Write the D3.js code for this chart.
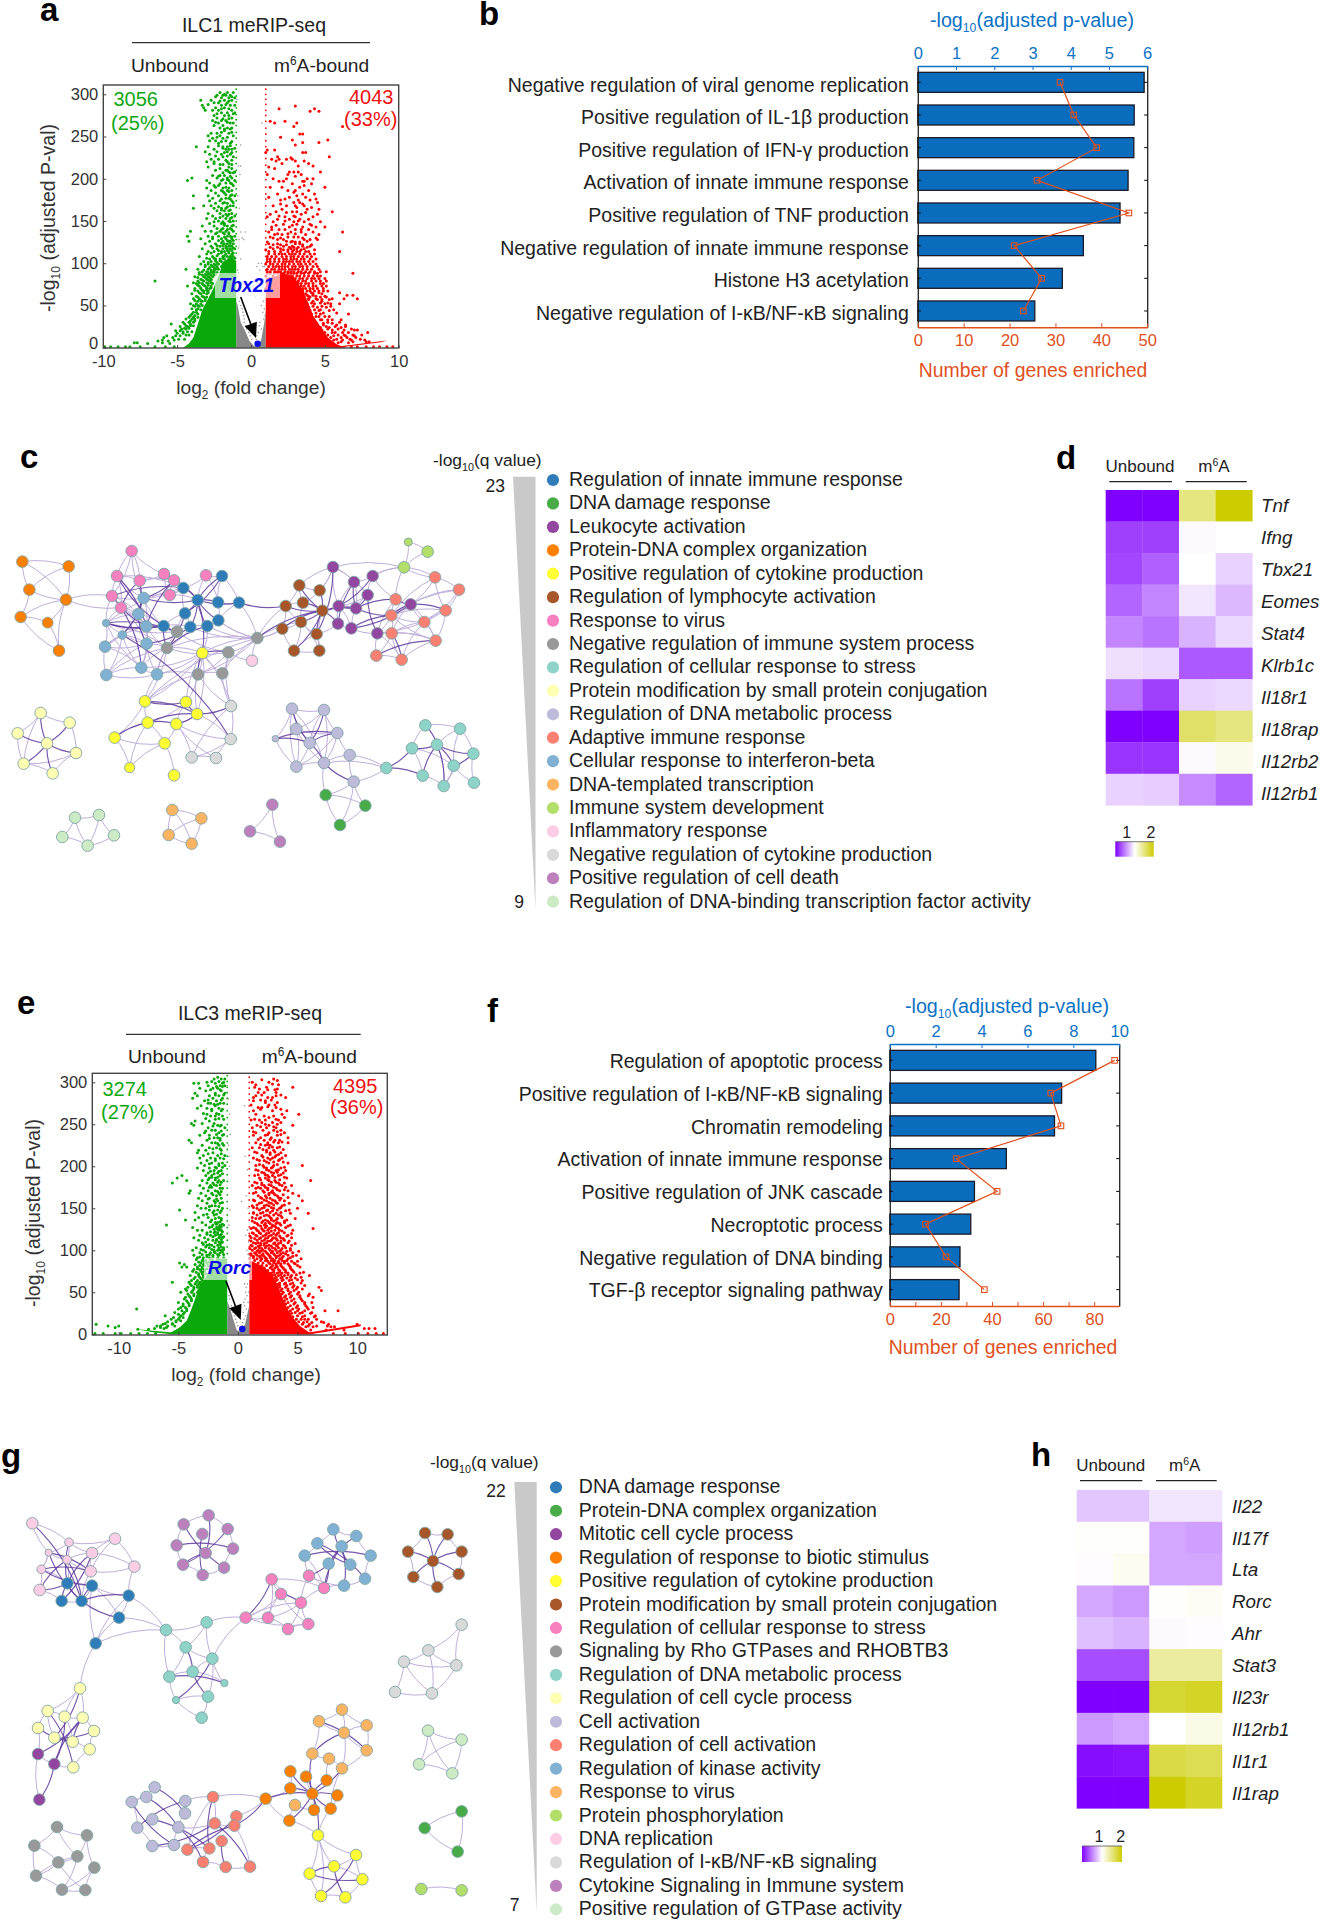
<!DOCTYPE html>
<html><head><meta charset="utf-8">
<script src="https://cdnjs.cloudflare.com/ajax/libs/d3/7.8.5/d3.min.js"></script>
<style>html,body{margin:0;padding:0;background:#fff}svg{display:block}text{font-family:"Liberation Sans",Arial,sans-serif}</style>
</head><body><svg id="c" width="1321" height="1920"></svg>
<script>
// ---------- DATA ----------
const volcanoTicksY=[0,50,100,150,200,250,300];
const termsB=["Negative regulation of viral genome replication","Positive regulation of IL-1β production","Positive regulation of IFN-γ production","Activation of innate immune response","Positive regulation of TNF production","Negative regulation of innate immune response","Histone H3 acetylation","Negative regulation of I-κB/NF-κB signaling"];
const pvalB=[5.92,5.66,5.65,5.50,5.29,4.33,3.78,3.06];
const genesB=[31,34,39,26,46,21,27,23];
const termsF=["Regulation of apoptotic process","Positive regulation of I-κB/NF-κB signaling","Chromatin remodeling","Activation of innate immune response","Positive regulation of JNK cascade","Necroptotic process","Negative regulation of DNA binding","TGF-β receptor signaling pathway"];
const pvalF=[8.98,7.49,7.18,5.08,3.69,3.53,3.06,3.02];
const genesF=[88,63,67,26,42,14,22,37];
const legendC=["Regulation of innate immune response","DNA damage response","Leukocyte activation","Protein-DNA complex organization","Positive regulation of cytokine production","Regulation of lymphocyte activation","Response to virus","Negative regulation of immune system process","Regulation of cellular response to stress","Protein modification by small protein conjugation","Regulation of DNA metabolic process","Adaptive immune response","Cellular response to interferon-beta","DNA-templated transcription","Immune system development","Inflammatory response","Negative regulation of cytokine production","Positive regulation of cell death","Regulation of DNA-binding transcription factor activity"];
const legendG=["DNA damage response","Protein-DNA complex organization","Mitotic cell cycle process","Regulation of response to biotic stimulus","Positive regulation of cytokine production","Protein modification by small protein conjugation","Regulation of cellular response to stress","Signaling by Rho GTPases and RHOBTB3","Regulation of DNA metabolic process","Regulation of cell cycle process","Cell activation","Regulation of cell activation","Regulation of kinase activity","Response to virus","Protein phosphorylation","DNA replication","Regulation of I-κB/NF-κB signaling","Cytokine Signaling in Immune system","Positive regulation of GTPase activity"];
const groupColors=["#2f7db8","#47ab47","#9246a0","#ff7f00","#ffff33","#a65628","#f781bf","#999999","#8dd3c7","#ffffb3","#bebada","#fb8072","#80b1d3","#fdb462","#b3de69","#fccde5","#d9d9d9","#bc80bd","#ccebc5"];
const groupKeys="ABCDEFGHIJKLMNOPQRS".split("");
const genesD=["Tnf","Ifng","Tbx21","Eomes","Stat4","Klrb1c","Il18r1","Il18rap","Il12rb2","Il12rb1"];
const heatD=[[-2,-2,1,2],[-1.5,-1.5,-.05,0],[-1.45,-1.25,0,-.35],[-1.2,-.95,-.2,-.55],[-.95,-1.1,-.6,-.3],[-.25,-.3,-1.3,-1.3],[-1.1,-1.5,-.35,-.3],[-2,-2,1.2,1],[-1.6,-1.6,-.05,.15],[-.35,-.4,-.9,-1.2]];
const genesH=["Il22","Il17f","Lta","Rorc","Ahr","Stat3","Il23r","Il12rb1","Il1r1","Il1rap"];
const heatH=[[-.45,-.45,-.2,-.2],[.03,.03,-.7,-.75],[-.02,.12,-.7,-.7],[-.7,-.8,.03,.08],[-.5,-.6,-.05,-.02],[-1.4,-1.4,.75,.75],[-2,-2,1.6,1.7],[-.8,-.7,0,.2],[-1.9,-1.85,1.45,1.35],[-2,-2,2,1.7]];

// volcano: dense areas as outlines [log2FC, -log10P], scattered points as rows [y, x, x, ...]
const denseGreenA=[[-4.6,0],[-4.2,5],[-3.9,12],[-3.6,28],[-3.3,45],[-2.9,58],[-2.5,72],[-2.2,85],[-1.9,100],[-1.3,108],[-1,100],[-1,0]];
const denseRedA=[[1,0],[1,82],[1.6,84],[2.2,88],[2.9,84],[3.2,76],[3.5,68],[3.9,52],[4.2,38],[4.7,25],[5.2,12],[5.8,4],[6.4,0]];
const tailRedA=[[5.2,0],[9.2,8.5],[8.8,6.5],[6.5,1.5],[6.2,0]];
const denseGrayA=[[-1,0],[-1,55],[-.9,50],[-.7,30],[-.4,20],[-.1,8],[.2,2],[.5,1],[.7,10],[.9,30],[1,45],[1,0]];
const edgeGreenYA=[306,298,291,284,276,270,263,255,248,240,232,225,218,210,203,196,188,182,174,166,158,150,143,135,128,120,112];
const edgeRedYA=[306,300,294,288,281,275,268,260,253,245,238,231,224,216,208,199,190,182,176,168,160,153,146,138,130,122,115,108,100,92,84];
const greenA=[[302,-2.1,-1.6,-1.2],[299,-2.3,-1.9,-1.7,-1.4],[296,-2.0,-1.5,-1.1],[293,-3.4,-2.7,-1.8,-1.3],[290,-2.5,-2.2,-1.6],[287,-3.3,-2.0,-1.4,-1.1],[284,-3.2,-2.4,-1.8],[281,-3.1,-2.6,-2.2,-1.3],[278,-2.0,-1.6,-1.1],[275,-2.5,-1.8,-1.5],[272,-2.3,-1.3],[269,-2.6,-2.0,-1.7],[266,-2.2,-1.4,-1.2],[263,-2.5,-1.9],[260,-2.1,-1.6,-1.3],[257,-1.8],[254,-2.7,-2.3,-1.5],[251,-2.9,-2.1,-1.2],[248,-2.6,-1.9],[245,-2.8,-2.4,-1.7],[242,-2.2,-1.4],[238,-3.7,-2.9,-1.9,-1.6],[235,-2.5,-1.7,-1.5,-1.3],[232,-3.1,-2.3,-1.6],[229,-2.8,-2.0,-1.4],[226,-1.9,-1.2],[223,-2.7,-2.2],[220,-3.0,-2.5,-1.6],[217,-2.1,-1.9,-1.3],[214,-2.9,-1.5],[210,-2.4,-1.7,-1.6],[207,-1.9,-1.4,-1.2],[204,-2.6,-2.1,-1.8],[201,-4.0,-2.3,-1.6,-1.3],[198,-4.3,-3.0,-2.0,-1.5,-1.1],[195,-2.8,-1.7,-1.4],[192,-2.5,-2.2,-1.2],[189,-3.0,-1.9,-1.5],[186,-2.7,-2.0,-1.6,-1.3],[183,-2.4,-1.8],[180,-3.9,-2.9,-2.2,-1.4,-1.1],[177,-2.6,-1.7,-1.5],[174,-2.8,-2.1,-1.3],[171,-2.4,-1.9,-1.6],[168,-3.2,-2.7,-1.4,-1.2],[165,-3.9,-2.5,-2.0,-1.7],[162,-2.3,-1.8,-1.5],[159,-2.9,-2.1,-1.3],[156,-2.6,-1.9,-1.6,-1.1],[153,-3.0,-2.4,-1.7,-1.4],[150,-2.2,-1.5,-1.2],[147,-2.8,-2.0,-1.8],[144,-3.3,-2.5,-1.6,-1.3],[141,-2.3,-1.9,-1.4],[138,-4.1,-3.1,-2.7,-2.1,-1.7,-1.2],[135,-2.4,-1.8,-1.5],[132,-4.3,-2.9,-2.2,-1.6,-1.4,-1.1],[129,-3.4,-2.6,-2.0,-1.7,-1.3],[126,-4.2,-2.8,-1.9,-1.5,-1.4],[123,-3.1,-2.4,-1.8,-1.6,-1.2],[120,-2.7,-2.1,-1.7,-1.5,-1.3],[117,-3.3,-2.3,-1.9,-1.6,-1.4,-1.1],[114,-2.9,-2.5,-2.0,-1.8,-1.5],[111,-3.0,-2.2,-1.7,-1.3],[108,-3.5,-2.6,-1.9,-1.6,-1.4,-1.2],[105,-2.8,-2.4,-2.1,-1.8,-1.5],[102,-3.2,-2.7,-2.0,-1.7,-1.3,-1.1],[99,-3.4,-2.9,-2.5,-2.2,-1.9],[96,-3.1,-2.6,-2.3,-2.0],[93,-4.4,-3.6,-2.9,-2.4,-2.2],[90,-3.3,-3.0,-2.7,-2.5],[87,-3.5,-3.1,-2.8,-2.4],[84,-3.8,-3.2,-2.9,-2.6],[81,-3.4,-3.0,-2.7],[79,-6.5,-3.6,-3.2,-2.8],[76,-3.7,-3.3,-2.9,-2.6],[73,-4.3,-3.5,-3.1,-2.7],[70,-3.8,-3.4,-3.0,-2.8],[67,-3.6,-3.2,-2.9],[64,-4.0,-3.4,-3.0],[61,-3.7,-3.3],[58,-3.9,-3.5,-3.1],[55,-3.6,-3.3],[52,-4.1,-3.7,-3.4],[49,-3.8,-3.5],[46,-4.0,-3.6],[42,-3.9,-3.7],[38,-4.1,-3.8],[34,-4.4,-4.0,-3.8],[30,-4.6,-4.2,-3.9],[28,-5.4,-4.5,-4.1],[25,-4.8,-4.3],[22,-4.7,-4.4],[20,-5.1,-4.8],[17,-5.0,-4.6],[14,-5.7,-5.1,-4.8],[12,-5.9,-5.3],[9,-6.0,-5.2],[8,-6.3,-5.6],[6,-7.7,-7.9,-6.0],[5,-7.0,-5.5],[1,-9.9,-9.5,-9.0,-8.5,-8.2,-7.5,-6.5,-5.8,-5.2]];
const greenA2=[[300,-1.8],[297,-2.4,-1.3],[292,-2.1,-1.5],[288,-1.7,-2.9],[283,-1.5,-2.0],[277,-2.3,-1.2],[271,-1.9,-1.5],[267,-1.6,-2.4],[259,-1.4,-1.8],[255,-2.0,-1.3],[249,-1.6,-2.3],[244,-1.3,-2.0],[239,-2.2,-1.4],[236,-1.9,-1.1],[231,-1.8,-1.3],[227,-2.4,-1.6],[222,-1.7,-1.3],[218,-2.5,-1.5],[212,-2.1,-1.3],[208,-1.5,-1.1],[203,-2.2,-1.4],[199,-1.9,-1.6],[194,-2.1,-1.3],[190,-2.4,-1.7],[185,-1.5,-1.9],[181,-1.7,-1.3],[176,-2.0,-1.4],[172,-1.8,-1.2],[167,-2.2,-1.6],[163,-1.4,-2.0],[158,-1.7,-1.5],[154,-2.1,-1.3],[149,-1.9,-1.4,-2.5],[145,-1.8,-1.2],[140,-2.0,-1.6,-1.3],[136,-1.5,-1.9,-2.3],[131,-1.8,-1.3,-2.6],[127,-2.2,-1.6,-1.2],[124,-2.0,-1.4],[121,-2.3,-1.9,-1.4],[118,-2.6,-1.7,-1.2],[115,-2.2,-1.6,-1.3],[112,-2.7,-2.0,-1.5,-1.2],[109,-2.3,-1.8,-1.3],[106,-3.0,-2.5,-1.9,-1.4,-1.1],[103,-2.4,-2.1,-1.6,-1.2],[101,-2.9,-2.3,-1.8,-1.4],[98,-3.1,-2.7,-2.4],[95,-2.8,-2.5,-2.3],[92,-3.2,-2.7,-2.5],[89,-3.5,-2.9,-2.6,-2.3],[86,-3.3,-3.0,-2.7,-2.5],[83,-3.6,-3.1,-2.8],[80,-3.3,-2.9,-2.7],[77,-3.9,-3.5,-3.0,-2.7],[74,-3.6,-3.2,-2.9],[71,-3.4,-3.0,-2.7],[68,-3.8,-3.3,-3.0],[65,-3.5,-3.2,-2.9],[60,-3.6,-3.2,-3.0],[56,-3.8,-3.4,-3.1],[50,-3.9,-3.6,-3.3],[45,-3.7,-3.4],[40,-4.0,-3.6],[36,-4.2,-3.9,-3.6],[32,-4.1,-3.8],[26,-4.4,-4.1,-3.9],[23,-4.5,-4.2],[19,-4.6,-4.3,-4.0],[15,-4.4,-4.2],[10,-4.9,-4.5]];
const redA=[[286,3.0],[283,1.9,4.3],[280,4.0,4.6],[268,1.3,2.3],[266,3.1,1.6],[262,6.2,2.9],[253,3.5,3.3],[249,2.0],[246,2.8,5.2],[243,3.5,4.6],[240,3.0],[234,1.6,1.1],[231,3.7,1.0,3.5],[226,1.8,5.3],[223,1.9,2.4,2.8,1.4],[221,3.6,1.7,3.0],[218,3.9,2.1],[214,1.2],[208,2.9,3.2,4.7,2.6],[205,1.1,2.5,3.4],[200,2.4,1.5,4.2,3.8],[197,2.2,3.5,3.6,1.9],[194,2.8,4.1],[190,5.0,3.3,2.1,1.3],[186,2.5,3.0,3.9],[182,1.8,4.3,3.5],[178,2.6,3.7,1.2],[175,3.2,4.0,2.0],[172,2.9,3.3,4.5],[168,1.5,2.4,3.0,3.6],[164,2.1,3.8,4.6],[161,5.5,2.8,3.1,1.7],[158,1.3,3.4,4.5],[155,2.3,3.0,4.2,1.1],[152,2.6,3.3,3.9,1.8],[149,1.5,2.9,3.6,4.7],[146,2.2,3.1,4.0],[143,1.4,2.6,3.5,5.0,4.4],[140,1.9,3.0,2.3],[137,6.2,1.2,2.7,3.4,4.2],[134,1.6,2.1,3.7,4.6],[131,1.3,2.5,2.9,3.2],[128,1.8,2.2,3.6,4.0,4.5],[125,1.1,2.7,3.0,3.3],[122,1.5,2.0,2.4,3.5,4.1],[119,1.3,1.8,2.6,2.9,3.2,3.8],[116,1.0,2.2,2.5,3.4,4.3,2.9],[114,6.0,1.6,2.0,2.8,3.1,3.7],[111,1.2,1.9,2.3,2.6,3.3,4.0],[108,1.4,1.7,2.1,2.9,3.5,3.8],[105,1.1,1.6,2.4,2.7,3.1,3.6,4.4],[102,1.3,1.9,2.2,2.6,3.3,3.9],[99,1.0,1.5,1.8,2.3,2.9,3.4,3.7],[96,1.2,1.7,2.1,2.5,3.0,3.5,4.2],[93,1.4,1.9,2.3,2.8,3.2,3.8,4.6],[90,1.1,1.6,2.0,2.5,2.9,3.4,4.0,5.1],[88,1.3,1.8,2.2,2.7,3.1,3.6,4.3,6.9],[85,1.0,1.5,1.9,2.4,2.8,3.3,3.9,4.7],[82,1.2,1.7,2.1,2.6,3.0,3.5,4.1,5.0],[79,1.4,1.8,2.3,2.8,3.2,3.7,4.4],[76,1.1,1.6,2.0,2.5,2.9,3.4,3.9,4.7],[73,1.3,1.9,2.2,2.7,3.1,3.6,4.2,5.1],[70,1.0,1.5,2.1,2.4,3.0,3.5,4.0,4.5],[67,1.6,2.6,3.3,3.8,4.3,4.9],[65,6.0,3.5,4.1,4.6],[62,3.3,3.8,4.2,6.5,6.9],[60,3.6,4.0,4.7,5.1],[58,3.5,3.9,4.4,7.2,5.5,6.3],[55,3.7,4.2,4.8],[52,3.8,4.3,5.0,5.4,6.0],[48,3.9,4.5,5.1],[44,4.0,4.6,5.3],[40,4.1,4.7,6.6],[37,4.0,4.4,5.0],[33,4.2,4.8,5.5],[30,4.4,5.2,6.0],[27,4.5,4.9,5.8,6.4],[24,4.7,5.3,6.1],[21,4.8,5.5,6.3,7.2,7.0],[18,5.0,5.7,6.6,7.9],[15,5.2,5.9,6.9,6.3,7.5],[12,5.4,6.1,7.1,6.5],[9,5.6,6.2,6.8,7.7],[6,5.9,6.6],[1,6.8,7.2,7.8,8.3,8.7,9.2,9.6]];
const redA2=[[225,2.7],[215,3.2,4.2],[212,1.6],[203,3.0],[192,3.6],[184,2.9],[180,3.1],[176,2.3,4.4],[170,2.0,3.5],[166,3.1,4.1],[160,2.4,3.7],[156,1.9,2.9],[150,3.2,2.3],[145,1.7,2.8,4.1],[140,3.4,3.9,1.4],[135,2.5,3.0,1.8],[130,2.0,3.5,4.4,1.5],[126,2.4,2.8,3.8],[123,1.2,3.0,3.3,1.8],[120,2.2,2.8,3.5,4.0],[117,1.5,2.0,2.7,3.1,3.6],[114,1.2,2.5,3.3,3.9],[111,1.6,2.1,2.8,3.0,3.6,4.3],[108,1.1,2.4,2.7,3.2,4.1],[105,1.3,1.9,2.2,2.9,3.4,4.0],[102,1.1,1.6,2.4,2.8,3.1,3.6,4.2],[99,1.3,2.1,2.6,3.2,4.0,4.4],[96,1.5,1.9,2.3,2.8,3.3,3.8,4.5],[93,1.1,1.6,2.1,2.6,3.0,3.5,4.1],[90,1.3,1.8,2.3,2.7,3.2,3.7,4.3,4.7],[88,1.1,1.6,2.0,2.5,2.9,3.4,3.9,4.5],[85,3.1,3.6,4.2,4.5,2.6],[82,3.3,3.8,4.3,4.6],[79,3.2,3.5,4.1,4.7,5.1],[76,3.2,3.7,4.2,4.9],[73,3.4,3.9,4.4,4.8],[70,3.3,3.7,4.2,4.9],[67,3.5,4.0,4.6,5.2],[64,3.7,4.2,4.8],[61,3.9,4.4,5.0],[57,3.9,4.5,5.3,4.8],[53,4.1,4.7,5.2],[49,4.2,4.8,5.4],[45,4.3,4.7,5.6],[41,4.4,4.9,5.8],[37,4.6,5.3],[33,4.7,5.2,6.1],[29,4.9,5.5],[25,5.1,5.7,6.4],[22,5.2,5.9,6.8],[18,5.5,6.2],[14,5.6,6.4,7.0],[10,5.8,6.7,7.4],[7,6.1,6.9,7.8,8]];
const grayA=[[294,-.95],[266,.75],[240,-.7],[215,-.85,-.7],[205,-.75],[180,-.9],[165,-.8],[137,-.7,-.4],[130,-.6],[128,-.5,-.8],[118,-.85],[105,-.7],[100,.5,.7],[96,.4,.8,.9],[92,-.9,.6],[88,-.85],[84,.95,-.95],[60,-.9,.3],[55,-.8,.85],[50,-.7,.7],[46,-.6,.9],[42,-.55,.8],[38,-.5,.95],[34,-.45,.85],[30,-.45,.6],[26,-.35,.55],[22,-.3,.7],[18,-.15,.5],[14,-.05,.4],[10,.05,.35]];
const denseGreenE=[[-5.9,0],[-4.9,8],[-4.3,16],[-3.9,30],[-3.5,46],[-3.2,60],[-2.7,68],[-2.3,80],[-1.8,90],[-.9,90],[-.9,0]];
const tailGreenE=[[-8.5,6],[-5.5,2],[-5.5,0],[-7,2]];
const denseRedE=[[.95,0],[.95,88],[1.5,85],[2.2,80],[2.8,72],[3.3,60],[3.7,45],[4.1,32],[4.6,20],[5.2,10],[6,2],[6.5,0]];
const tailRedE=[[5,0],[10.3,12],[10.3,9.5],[7,2],[6,0]];
const denseGrayE=[[-.9,0],[-.9,40],[-.65,30],[-.4,18],[-.1,5],[.2,3],[.6,12],[.95,35],[.95,0]];
const edgeGreenYE=[308,301,294,288,281,274,266,258,250,243,236,228,220,212,205,197,190,182,174,166,158,150,142,135,127,120,112,104,96];
const edgeRedYE=[306,300,293,286,279,272,265,258,250,242,235,228,220,213,205,197,189,182,175,168,160,152,144,136,128,120,112,104,96,90];
const greenE=[[304,-2.0,-1.4,-1.1],[301,-2.2,-1.6],[299,-3.7,-3.3,-1.9,-1.3],[296,-2.5,-1.5,-1.1],[293,-3.2,-2.1,-1.7],[290,-2.7,-1.4],[287,-3.6,-1.9,-1.1],[284,-3.4,-2.4,-1.6],[281,-3.8,-2.1,-1.3],[278,-2.8,-1.8],[275,-2.5,-2.3,-1.5,-1.2],[272,-3.1,-1.9],[269,-3.4,-2.6,-1.6],[266,-2.2,-1.4],[263,-2.9,-1.8],[260,-2.3,-1.9,-1.3],[257,-2.7,-1.6],[254,-3.6,-2.4],[251,-3.9,-3.0,-2.0],[249,-3.7,-1.7,-1.4],[246,-2.5,-1.1],[243,-2.2,-1.9],[240,-2.8,-1.6],[237,-3.2,-2.4,-1.3],[234,-2.0,-1.7],[231,-4.1,-2.6,-1.5],[228,-3.9,-2.2,-1.9],[225,-3.0,-1.6,-1.2],[222,-2.4,-1.8],[219,-3.3,-2.7,-1.4],[216,-3.4,-2.1],[213,-2.9,-1.7,-1.1],[210,-3.2,-2.3,-1.5],[207,-2.6,-1.9],[204,-3.1,-2.2,-1.3],[201,-2.8,-1.6,-1.1],[198,-3.4,-2.4,-1.8],[195,-2.9,-2.0,-1.4],[192,-2.5,-1.7],[189,-4.7,-2.7,-2.2,-1.5],[186,-5.1,-2.4,-1.9],[183,-4.3,-3.0,-1.6,-1.2],[180,-5.5,-2.6,-2.1],[177,-3.2,-2.3,-1.8],[174,-2.9,-1.5,-1.3],[171,-4.0,-2.5,-1.9],[168,-4.1,-3.1,-2.2,-1.6],[165,-2.7,-1.8],[162,-3.3,-2.4,-1.4],[159,-3.0,-2.0,-1.7],[156,-2.6,-1.5],[153,-3.4,-2.2,-1.9],[150,-3.1,-2.7,-1.3],[148,-4.9,-2.4,-1.7],[145,-3.6,-2.1,-1.5],[142,-2.9,-2.0],[139,-3.3,-2.5,-1.6],[136,-4.4,-3.6,-2.2,-1.4],[133,-3.0,-1.9,-1.7],[130,-6.0,-2.7,-2.1,-1.5,-1.2],[127,-3.8,-2.4,-1.8],[124,-3.4,-3.0,-1.6,-1.4],[121,-2.6,-2.0,-1.7],[118,-3.2,-2.3,-1.9,-1.5],[115,-3.7,-2.8,-1.6,-1.3],[112,-3.3,-2.1,-1.8],[109,-3.0,-1.9,-1.5,-1.4],[106,-2.6,-2.2,-1.7],[103,-3.5,-2.4,-1.6,-1.2],[100,-3.8,-2.9,-2.0,-1.7,-1.4],[97,-3.2,-2.3,-1.9,-1.5],[94,-3.7,-2.6,-2.1,-1.6],[91,-3.4,-2.9,-2.4,-1.2,-1.7],[88,-3.0,-2.7,-2.1],[85,-4.9,-3.1,-2.6],[83,-4.5,-3.6,-2.9],[80,-4.7,-4.3,-3.4,-3.0],[77,-3.7,-3.2,-2.8],[74,-3.5,-3.0],[70,-4.0,-3.3,-2.9],[66,-3.7,-3.1],[62,-5.5,-4.1,-3.5,-3.2],[58,-3.9,-3.4],[54,-4.4,-3.7],[50,-4.8,-3.9,-3.4],[46,-4.1,-3.7],[42,-4.5,-3.9],[38,-5.0,-4.2],[34,-4.6,-4.1],[30,-8.5,-5.0,-4.3],[26,-5.3,-4.5],[22,-6.1,-4.8],[18,-5.6,-5.0],[15,-5.9,-5.2],[12,-11.9,-6.3,-5.5],[10,-10.9,-10.0,-6.8],[8,-10.3,-6.5,-6.0],[6,-8.4,-7.5],[1,-12,-11.3,-10.3,-9.8,-9,-8.3,-7.6,-6.9]];
const greenE2=[[306,-1.7],[300,-2.6,-1.2],[295,-1.8,-1.3],[291,-2.3,-1.5],[285,-1.9,-1.2],[279,-2.5,-1.4],[274,-1.7,-2.0],[268,-1.3,-2.2],[262,-2.6,-1.6],[256,-1.9,-1.2],[248,-2.1,-1.5],[242,-2.7,-1.4],[238,-1.8,-1.2],[233,-2.4,-1.5],[227,-1.7,-1.3],[221,-2.1,-1.5],[215,-2.5,-1.4],[209,-1.9,-1.2],[203,-2.4,-1.6],[199,-1.9,-1.3],[194,-2.3,-1.6],[191,-2.0,-1.3],[187,-2.2,-1.7],[184,-2.5,-1.9],[181,-1.7,-1.4],[178,-2.0,-1.5],[175,-2.4,-2.2],[170,-1.7,-1.4],[166,-2.1,-1.5],[161,-2.5,-1.8],[157,-1.9,-1.3],[152,-2.4,-1.6],[147,-2.0,-1.4],[143,-2.6,-1.8],[138,-1.9,-1.4],[134,-2.3,-1.5],[131,-1.8,-1.3],[128,-2.2,-1.6,-1.4],[125,-2.0,-1.7,-1.5],[122,-2.3,-1.9,-1.3],[119,-2.6,-1.7,-1.4],[116,-2.1,-1.5,-1.2],[113,-2.5,-1.8,-1.4],[110,-2.7,-1.6,-1.3],[107,-2.9,-2.4,-1.5],[104,-2.7,-2.0,-1.4],[101,-3.1,-2.2,-1.6,-1.2],[98,-2.7,-2.0,-1.3],[95,-3.0,-2.4,-1.7,-1.2],[92,-3.2,-2.6,-2.1],[89,-3.5,-2.9,-2.3],[86,-3.3,-2.8,-2.4],[82,-3.2,-2.8,-2.5],[78,-3.4,-3.0,-2.6],[75,-3.8,-3.1,-2.8],[72,-3.3,-3.0,-2.7],[68,-3.6,-3.2,-2.9],[64,-3.9,-3.4,-3.0],[60,-4.0,-3.6,-3.3],[56,-4.2,-3.7,-3.4],[52,-4.3,-3.8,-3.3],[48,-4.2,-3.7],[44,-4.4,-4.0],[40,-4.3,-3.9],[36,-4.6,-4.1],[32,-4.8,-4.4],[28,-4.7,-4.3],[24,-5.0,-4.6],[20,-5.4,-4.9,-4.6],[16,-5.2,-4.8],[13,-6.1,-5.5],[10,-6.5,-5.9,-5.3],[7,-7,-6.2]];
const redE=[[304,3.0],[302,3.3],[300,1.2,2.6],[297,1.5,3.4],[294,1.4,4.6,2.4],[291,2.5,3.1],[288,1.7,2.2,3.2],[285,2.0,3.6],[282,1.3,2.5,2.9,4.0],[279,2.8,1.9],[276,2.3,3.3],[273,1.1,3.1,2.6],[270,3.2,2.0,1.7],[266,2.9,4.1,1.3],[262,1.5,3.7,5.1],[258,2.6,3.9],[255,1.1,1.8,2.3,3.4],[252,2.0,2.9,3.6],[249,1.6,2.6,4.6],[246,1.2,2.4,3.2],[243,2.1,3.0,3.6],[240,2.6,1.5,3.9],[237,1.3,2.3,3.3],[234,1.9,2.8,4.2],[231,2.2,3.1,3.5],[228,1.5,2.5,3.4,4.2],[225,2.3,2.7],[222,1.2,1.8,2.6,3.3],[219,2.4,3.0],[216,1.6,2.7,3.6],[213,2.0,3.2,4.0],[210,1.3,2.5,2.9,3.7],[207,1.8,2.2,3.4],[204,2.6,4.2],[201,1.5,2.1,3.0,5.4],[198,2.4,2.8,3.6],[195,1.7,2.6,3.2,4.0],[192,2.2,3.0,3.8],[189,1.4,2.5,2.9,3.4],[186,1.8,2.3,4.1],[183,2.6,3.1,6.1],[180,1.6,2.0,3.4,3.9],[177,1.2,2.2,2.8,3.7,4.5],[174,1.5,1.9,2.5,3.2],[171,2.1,2.9,3.5,4.2],[168,1.3,2.6,3.0,4.6],[165,1.7,2.3,3.3,5.1],[162,2.0,2.7,3.6],[159,1.4,2.4,3.1,3.9,5.4],[156,1.8,2.8,3.3,4.3],[153,1.2,2.2,2.6,3.7],[150,1.6,2.0,3.0,3.5,5.0],[147,2.4,2.9,4.0],[144,1.3,1.9,3.2,4.4,5.9],[141,2.2,2.6,3.6],[138,1.5,1.8,2.8,3.3,4.8],[135,1.2,2.1,2.5,3.0,3.9],[132,1.6,2.3,2.7,3.2,3.5],[129,1.9,2.4,2.9,3.1,4.2],[126,1.1,1.5,2.0,2.6,3.4,6.3],[123,1.7,2.2,2.8,3.7],[120,1.3,1.9,2.4,3.0,3.3,4.5],[117,1.0,1.6,2.1,2.6,3.5,4.1],[114,1.4,1.8,2.3,2.9,3.2,3.8],[111,1.1,2.0,2.5,2.7,3.6,4.3],[108,1.5,1.9,2.2,3.0,3.4,4.8],[105,1.2,1.7,2.4,2.8,3.3,3.9],[102,1.0,1.4,2.0,2.6,3.1,3.7,4.4],[99,1.6,1.9,2.3,2.9,3.5,4.1,5.1],[96,1.1,1.5,2.1,2.5,3.0,3.6,4.0],[93,1.3,1.8,2.2,2.7,3.3,3.8,4.6],[90,1.0,1.6,2.0,2.4,2.9,3.5,4.2,5.3],[88,1.4,1.9,2.3,2.8,3.1,3.7,4.1],[85,1.2,1.7,2.1,2.6,3.0,3.4,3.9,4.7],[82,1.5,2.0,2.4,2.9,3.2,3.6,4.3,5.0],[79,1.1,1.8,2.2,2.7,3.1,3.8,4.4],[76,1.4,1.9,2.5,3.0,3.5,4.0,4.6],[73,2.8,3.3,3.7,4.2,5.2],[70,2.9,3.4,3.9,4.5,6.0],[67,3.1,3.6,4.1,4.8],[64,3.2,3.7,4.3,5.4],[60,3.4,3.9,4.4],[56,3.5,4.0,4.6,5.0,6.8],[52,3.6,4.2,4.7,7.0],[48,3.7,4.3,5.0,6.0],[44,3.9,4.4,5.2,6.3],[40,3.9,4.5,5.4],[36,4.0,4.7,5.6],[32,4.2,4.9,5.8,6.3],[28,4.4,5.0,5.6,7.3,8.4],[25,4.5,5.2,6.1],[21,4.6,5.4,6.4],[18,4.9,5.6,6.6],[15,5.1,5.8,7.0],[12,5.4,6.0,7.6,10.0],[9,5.7,6.3,7.8,8.1],[7,10.6,11,11.5],[5,6.1,7.4,8.9],[1,8,9,10.1,10.9,11.6,12.2]];
const redE2=[[303,2.0],[298,2.9],[292,3.3,1.8],[284,1.5,3.2],[278,2.3,1.3],[271,2.5],[268,1.9,3.6],[260,2.2,3.0],[256,3.2,1.4],[250,2.3,3.3],[247,1.9,3.0],[241,1.3,3.3],[238,2.5,3.6],[232,1.7,2.7],[229,3.0,3.7],[226,1.9,2.5],[223,2.9,3.5],[220,2.1,3.8],[217,1.4,2.4,3.1],[214,2.7,3.4],[211,2.1,3.1],[208,1.6,2.7,3.5],[205,2.4,3.0,3.8],[202,1.8,3.3],[199,2.2,2.9,3.9],[196,1.5,2.4,3.4],[193,2.0,2.8,3.3],[190,1.7,2.3,3.6],[187,2.6,3.1,3.9],[184,1.9,2.5,3.5],[181,1.4,2.8,3.2],[178,2.0,2.6,3.5],[175,1.7,2.3,3.0,4.0],[172,2.5,3.3,3.9],[169,1.5,2.2,2.8],[166,2.6,3.1,3.8],[163,1.9,2.4,3.4,4.2],[160,1.3,2.2,2.9,3.5],[157,2.0,2.6,3.2],[154,1.6,2.4,3.0,3.9],[151,1.3,2.2,2.8,3.6],[148,1.8,2.5,3.3,4.3],[145,2.1,2.7,3.6,1.3],[142,1.6,2.4,3.0,3.4],[139,1.2,1.9,2.7,3.7],[136,2.3,2.8,3.2,4.1],[133,1.4,2.0,2.6,3.3,3.9],[130,1.7,2.2,2.9,3.6,4.4],[127,1.3,2.3,2.8,3.2,4.0],[124,1.6,2.1,2.5,3.1,3.5,4.6],[121,1.2,1.8,2.6,3.4,3.9],[118,1.5,2.3,2.8,3.2,4.2],[115,1.1,1.9,2.5,3.0,3.6,4.5],[112,1.6,2.2,2.8,3.3,3.9],[109,1.3,1.7,2.4,3.1,3.6,4.2],[106,1.1,1.9,2.2,2.6,3.2,3.8,4.5],[103,1.5,1.8,2.3,2.9,3.4,4.0],[100,1.2,1.7,2.1,2.7,3.2,3.6,4.4],[97,1.4,1.8,2.4,2.8,3.3,3.8,4.6],[94,1.1,1.6,2.0,2.6,3.1,3.5,4.2,4.9],[91,1.3,1.9,2.3,2.7,3.2,3.7,4.4],[87,2.5,3.0,3.4,3.9,4.5,5.0],[84,2.7,3.2,3.6,4.2,4.8],[80,2.8,3.3,3.7,4.4,5.2],[77,2.9,3.4,3.9,4.5],[74,3.0,3.5,4.0,4.7,5.5],[71,3.1,3.6,4.2,4.9],[68,3.2,3.7,4.4,5.3],[65,3.3,3.8,4.5,5.0],[61,3.5,4.0,4.6,5.3],[58,3.5,4.1,4.7,5.6],[54,3.7,4.2,4.9,5.4],[50,3.8,4.4,5.1],[46,4.0,4.5,5.2,5.9],[42,4.1,4.7,5.3],[38,4.2,4.8,5.6,6.2],[34,4.4,5.0,5.7],[30,4.6,5.1,5.9],[26,4.8,5.4,6.2],[22,5.0,5.6,6.5],[18,5.3,5.9],[14,5.5,6.2,7.2],[10,5.9,6.6,7.5]];
const grayE=[[296,-.9],[280,-.8],[272,.55],[262,-.7],[238,-.65],[225,-.8],[212,.6,-.75],[200,-.7],[196,.8],[165,.7],[158,.3],[150,.85],[148,-.65],[130,-.75],[124,.8],[118,.65],[110,.9],[100,.75],[95,.85],[85,.55,.9],[60,.55,.8],[56,-.8,.7],[50,.65,.9],[46,-.75,.75],[42,-.7,.6],[38,.5,.85],[34,-.55,.55],[30,-.45,.7],[26,-.4,.45],[22,-.3,.65],[18,-.2,.5],[14,-.1,.4],[10,0,.35]];

// network nodes [x, y, optional r] in layout units (zoomed-picture units)
const nodesC={
D:[[67,155],[206,169],[88,239],[198,269],[62,321],[143,338,15],[177,422]],
G:[[395,123],[351,198],[419,212],[492,192],[522,211],[618,196],[509,255],[336,258],[363,293]],
A:[[666,198],[550,234],[593,270],[654,277],[717,278],[555,310],[655,331],[491,348],[571,351],[622,348]],
M:[[431,264],[415,312],[439,349],[440,401],[315,410],[319,495],[424,473],[471,493],[318,339,10],[367,375,12]],
H:[[531,365],[501,414],[772,384],[685,427],[594,493],[667,490]],
E:[[607,429],[435,574],[558,576],[591,612],[443,638],[529,642],[344,683],[494,700],[389,773,14],[522,796]],
Q:[[693,588],[692,687],[575,742],[648,744]],P:[[756,452]],
F:[[898,226],[959,241],[857,288],[909,278],[967,302],[903,336],[847,356],[950,372],[882,422],[958,422]],
C:[[999,171],[1062,216],[1118,198],[1103,255],[1016,288],[1068,295],[1014,341],[1054,355],[1132,370],[1232,283]],
L:[[1305,202],[1377,239],[1187,268],[1337,301],[1174,316],[1273,336],[1175,370],[1307,392],[1129,437],[1205,449]],
O:[[1225,96,11],[1283,125],[1212,172]],
J:[[122,609],[209,638],[53,670],[141,700],[228,729],[71,761],[158,790]],
K:[[876,596],[972,600],[889,657],[1012,669],[929,699],[826,686,9],[1049,735],[972,759],[889,770],[1061,815]],
B:[[977,855],[1096,887],[1020,945]],
I:[[1276,646],[1380,656],[1311,704],[1236,715],[1420,731],[1361,767],[1159,774],[1268,797],[1331,828],[1422,818]],
S:[[225,923],[297,915],[187,981],[263,1007],[342,976]],
N:[[517,900],[604,925],[506,975],[575,1001]],
R:[[817,884],[750,964],[840,995]]};
const darkC="A2:A0 A1 A3 A4 A5 A6 A8 A9 M0 G3 E0;M8:M2 H0 A7;M9:Q1 M0;G7:A1 M2;G1:M2 A7;G2:M1 G8;G4:M0 M2;A0:A5;A4:F2;M3:M1 A8;H1:A7 A5 A9;M2:A7 H0;M6:G8;E0:H3 H4;E3:E2 E4 E5 Q0;E1:E3 E2;E4:E5 E6;F4:F0 F1 F2 F3 F5 F6 F8 C4 C5 F7 C6 H2;C5:C1 L4 C4;C3:C8 C5;C1:C6;C0:F7;C4:C2;C7:L4 C9;C9:L3 L4 L2;L2:C5;L8:L7;L9:L6;J3:J0 J1 J2 J4 J5 J6;K4:K0 K1 K3 K5 K7;K7:K9;K5:K3;I6:I3 I7;I2:I0 I3 I7 I8 I4 I5;I5:I4";
const lightC="D0:D1 D2 D3;D1:D2 D3;D2:D3 D4;D3:D4 D5 D6 G7 G8;D4:D5 D6;D5:D6;G0:G1 G2 G3 G7 M0;G1:G2 G7 G8 M0 A1;G2:G3 G4 M0;G3:G4 G6 A1;G4:G6 A1;G5:A0 A1 A2 A3;G6:A1 A2 M0;G7:G8 M8 M1 M0;G8:M1 M8 M2 H0 M3;A0:A3 A4;A1:A5 M0;A3:A4 A6;A4:A6 H2;A5:A7 A8 H0;A6:A9 H2;A7:A8 H0 M0 M1;A8:A9 H0 H1;A9:H1 E0;M0:M1 M2;M1:M2 M4 M8;M2:M3 M4 M6 H1;M3:M4 M5 M6 M7 H1;M4:M5 M6 M8;M5:M6 M7 H1;M6:M7 H1 E0;M7:H1 E1 H4 E0 H0;M8:M3 A1 H0 H1 M6;M9:M3 M4 M5 M6;H0:H1 H3;H1:E0 H3;H2:H3 E0 H4 H5 F2 F6 F5 P0 A9 E1 A8 H1 A6;H3:E0 H5 P0 H4 Q0;H4:H5 E0 E2 Q0;H5:E0 Q0;E0:E1 E2 E3 E3 Q0;E1:E4 E6 H1 H4;E2:E3 E4 E5;E3:E5 Q0 Q1;E4:E6 E7 E8;E5:E7 Q1 Q2 Q3;E6:E8 E7;E7:E9 E8;Q0:Q1 Q2;Q1:Q2 Q3;Q2:Q3;F0:F1 F2 F3;F1:F3 C0;F2:F3 F5 F6;F3:F5;F5:F6 F7 F8;F6:F8 H2;F7:F8 F9;F8:F9;F9:F4 F5;C0:C1 C4 F1 F0 C3;C1:C2 C3 C4 C5;C2:C3 O2 L2;C3:C4 C5;C4:C5 C6 C7;C5:C7 L2;C6:C7 F7;C7:C8;C8:L2 L4 L6 L8 L9;C9:L0 L1 L5 L7 L6;L0:L1 L3 O2 L4;L1:L3 L4 L5;L2:L4 O2;L3:L5 L7 L4 C8;L4:L5 L6;L5:L6 L7 L9;L6:L8 L9 L7;L7:L9 L4 C8;L8:L9;O2:O0 O1 C2 L0 C0;O0:O1;J0:J1 J2 J5;J1:J4;J2:J5;J4:J5 J6;J5:J6;K0:K1 K2 K8 K5 K4 K7;K1:K3 K2 K4 K7;K2:K3 K8 K7 K4;K3:K6 K7;K5:K8;K8:K7 K3;K7:K6;K6:K9 I6;K9:I6 B0 B1 B2;K7:B0 I6;K8:K4;I0:I1 I3 I2;I1:I2 I4 I5;I3:I7 I2 I5;I4:I9;I5:I8 I9;I7:I8;I8:I5;I2:I8;I4:I8;B0:B1 B2;B1:B2;S0:S1 S2 S3;S1:S3 S4;S2:S3;S3:S4;N0:N1 N2 N3;N1:N2 N3;N2:N3;R0:R1 R2;R1:R2";
const nodesG={
P:[[97,100],[345,146],[207,157,12],[146,188,10],[276,189],[201,209,12],[403,230],[124,238,12],[272,244],[119,300]],
A:[[202,280],[276,287],[185,333],[245,333],[386,317],[357,383],[287,460]],
R:[[626,76],[551,103],[683,117],[607,132],[530,166],[699,176],[617,189],[549,224],[672,233],[608,255]],
M:[[1000,118],[1069,138],[952,160],[1025,169],[914,197],[1112,197],[986,221],[1051,224],[1095,266],[1032,287]],
G:[[815,268],[927,257],[843,312],[972,294],[903,338],[737,383],[804,383],[925,402],[864,417]],
F:[[1275,129],[1343,133],[1224,185],[1385,185],[1299,213],[1240,261],[1376,252],[1312,291]],
Q:[[1385,404],[1285,481],[1212,515],[1369,526],[1185,606],[1296,610]],
I:[[498,420],[620,397],[557,472],[637,506],[578,545],[508,560],[673,579,10],[528,630,10],[624,620],[605,683]],
J:[[240,595],[143,663],[194,680],[248,683],[114,714],[282,723],[163,743],[218,755],[269,778],[220,832]],
C:[[114,792],[163,822],[118,929]],
N:[[1026,659],[957,694],[1100,706],[1032,728],[1100,781],[937,791],[987,806],[1026,835],[885,945]],
D:[[871,844],[918,860],[980,871],[871,895],[937,911],[1012,916],[797,926],[942,960],[992,956],[868,992]],
E:[[954,1036],[1068,1095],[1002,1129],[929,1151],[1087,1168],[963,1218],[1036,1222]],
K:[[464,892],[439,921],[395,936],[556,933],[555,970],[457,988],[412,1013],[535,1012],[457,1068],[522,1065]],
L:[[639,921],[709,979],[644,1000],[703,1007],[665,1053],[562,1079],[628,1075],[609,1116],[677,1131],[750,1130]],
H:[[171,1011],[261,1036],[103,1067],[232,1099],[175,1117],[283,1133],[108,1157],[186,1199],[256,1200]],
S:[[1284,722],[1385,749],[1257,823],[1357,850]],
B:[[1385,964],[1274,1014],[1373,1085]],
O:[[1264,1197],[1385,1201]]};
const darkG="P0:A3;P3:A3 P8;P7:A1 P8;P9:A0 P5;P2:A0;P4:A2 A0;P5:A3;A0:A3;A2:A0;A1:A3;A3:A4 A5;R0:R6;R1:R8;R2:R7;R3:R9;R4:R5;R6:R7;M4:M5;M2:M7 M8;M1:M6;M3:M9;M0:M7;G3:M3;G1:M6;M6:G3;G5:G0;G2:G4;F4:F0 F1 F2 F3 F5 F6 F7;J1:J9;J4:J7;J5:J6;C0:J3;J2:C1;J3:C1;J0:J6;C2:C1;I2:I4;I4:I8;I5:I6;I7:I3;D4:D0 D1 D2 D3 D5 D6 D7 D8 D9;N5:D4;N7:D4;N3:N5;N1:N4;E0:D4;K1:K7;K3:K6;K0:K4;K2:K9;K5:L6;K8:L2;K7:L7;L0:L6;L1:L5;L3:L5;L2:L9;L4:L8;D6:L3;E2:E3;E1:E5;E2:E6;E4:E3;J3:J7";
const lightG="P0:P2 P3;P1:P2 P4 P6 P8;P2:P3 P4 P5;P3:P5 P7;P4:P5 P6 P8;P5:A0 P8;P6:P8 A4;P7:P9 P3 A0;P8:A3;P9:A2;A1:A4 A5 A6;A4:A5 A6 I0;A5:A6 I0;A6:J0 I0;A3:A1 A2;I0:I1 I2 I5;I1:I2 I3 G5;I2:I3 I5;I3:I4 G5 I6 I8;I4:I5 I6;I5:I7;I7:I8 I9;I8:I9;G0:G2 G6 G4 G3;G1:G4 G3;G2:G6 G5;G3:G4;G4:G6 G7 G8;G5:G6 G4 G7;G6:G8;G7:G8 G2;R0:R1 R2;R1:R4;R2:R5;R5:R8;R8:R9;R9:R7;R7:R4;M0:M1 M2;M1:M5;M2:M4;M5:M8;M8:M9;M9:G3 G1;M4:G1 G3;F0:F1 F2;F1:F3;F3:F6;F6:F7;F7:F5;F5:F2;Q0:Q1 Q3;Q1:Q2 Q3 Q5;Q2:Q3 Q4 Q5;Q3:Q5;Q4:Q5;J0:J1 J2 J3;J1:J4 J2 J6;J2:J7 J3;J3:J5;J5:J8;J6:J8;J8:J9;J4:C0;C0:C1;J9:C1;C0:C2;N0:N1 N2 N3;N1:N3 N5;N2:N3 N4;N3:N4 N7;N5:N6;N6:N7 D2;N4:N7;N7:D8;D0:D3;D1:D4;D3:D6;D6:D9;D9:N8;N8:D7;D5:D8;D8:E0;D9:E0;E0:E2 E3 E1 E5;E1:E4;E2:E4;E3:E5;E5:E6;E6:E4;E1:E2;K0:K1 K2;K1:K2;K2:K6;K3:K4 L0;K4:K7;K6:K8;K8:K9;K9:K7;K7:L2;L0:L2 L5;L0:D6;L1:D6;L1:L3;L2:L3;L5:L6;L6:L7;L7:L8;L8:L9;L3:L9;H0:H1 H2 H3;H1:H3 H5;H2:H4 H6;H3:H4 H6;H4:H6 H8;H5:H7 H8;H6:H7;H7:H8;H3:H7;S0:S1 S2 S3;S1:S3 S2;S2:S3;B0:B1 B2;B1:B2;O0:O1";

// ---------- HELPERS ----------
const svg=d3.select("#c");
const FS=19;
function rich(parent,parts,x,y,opt={}){
  const size=opt.size||FS;
  const t=parent.append("text").attr("x",x).attr("y",y).attr("font-size",size)
    .attr("fill",opt.fill||"#222").attr("text-anchor",opt.anchor||"start").attr("dy",".35em");
  if(opt.rotate) t.attr("transform",`rotate(${opt.rotate} ${x} ${y})`);
  let pending=0;
  parts.forEach(p=>{
    if(typeof p==="string"){const s=t.append("tspan").text(p);if(pending)s.attr("dy",pending+"px");pending=0;return;}
    const d=(p.sub?.28:-.36)*size;
    t.append("tspan").attr("font-size",size*.62).attr("dy",d+"px").text(p.t);
    pending=-d;
  });
  return t;
}
function letter(s,x,y){svg.append("text").attr("x",x).attr("y",y).attr("font-size",33).attr("font-weight","bold").attr("fill","#000").text(s);}

function volcano(c){
  const g=svg.append("g");
  const x=d3.scaleLinear().domain(c.xDomain).range([c.x0,c.x1]);
  const y=d3.scaleLinear().domain([0,300]).range([c.yZero,c.yZero-300*c.yK]);
  const clipId="clip"+c.id;
  g.append("clipPath").attr("id",clipId).append("rect").attr("x",c.x0).attr("y",c.y0).attr("width",c.x1-c.x0).attr("height",c.y1-c.y0);
  const plot=g.append("g").attr("clip-path",`url(#${clipId})`);
  const poly=d3.line().x(d=>x(d[0])).y(d=>y(d[1]));
  const expand=rows=>rows.flatMap(r=>r.slice(1).map(v=>[v,r[0]]));
  const dots=(pts,col,r)=>plot.append("g").selectAll("circle").data(pts).join("circle").attr("cx",d=>x(d[0])).attr("cy",d=>y(d[1])).attr("r",r).attr("fill",col);
  plot.append("path").attr("d",poly(c.denseGray)+"Z").attr("fill","#888");
  dots(expand(c.gray),"#999",.8);
  c.denseGreen.forEach(p=>plot.append("path").attr("d",poly(p)+"Z").attr("fill","#0aa80a"));
  c.denseRed.forEach(p=>plot.append("path").attr("d",poly(p)+"Z").attr("fill","#ff0000"));
  dots(expand(c.green),"#0aa80a",1.5);
  dots(expand(c.red),"#ff0000",1.5);
  dots(c.edgeG.map(v=>[c.thG,v]),"#0aa80a",.9);
  dots(c.edgeR.map(v=>[c.thR,v]),"#ff0000",.9);
  g.append("rect").attr("x",c.x0).attr("y",c.y0).attr("width",c.x1-c.x0).attr("height",c.y1-c.y0).attr("fill","none").attr("stroke","#444").attr("stroke-width",1.4);
  const ax=g.append("g").attr("transform",`translate(0,${c.y1})`).call(d3.axisBottom(x).tickValues(c.xTicks).tickSize(-3).tickPadding(7).tickFormat(String));
  const ay=g.append("g").attr("transform",`translate(${c.x0},0)`).call(d3.axisLeft(y).tickValues(volcanoTicksY).tickSize(-3).tickPadding(5));
  [ax,ay].forEach(a=>{a.select(".domain").remove();a.selectAll("line").attr("stroke","#444");a.selectAll("text").attr("font-size",16.5).attr("fill","#333").attr("font-family","Liberation Sans");});
  ay.selectAll(".tick text").filter(d=>d===0).attr("dy",c.zeroDy);
  g.append("rect").attr("x",c.box[0]).attr("y",c.box[1]).attr("width",c.box[2]).attr("height",c.box[3]).attr("fill","#fff").attr("opacity",.62);
  g.append("text").attr("x",c.label[1]).attr("y",c.label[2]).attr("dy",".35em").attr("font-size",c.label[3]).attr("font-weight","bold").attr("font-style","italic").attr("fill","#0a0aee").text(c.label[0]);
  const [ax0,ay0,ax1,ay1]=c.arrow, ang=Math.atan2(ay1-ay0,ax1-ax0), L=15, W=6.5;
  const bx=ax1-L*Math.cos(ang), by=ay1-L*Math.sin(ang);
  g.append("line").attr("x1",ax0).attr("y1",ay0).attr("x2",bx).attr("y2",by).attr("stroke","#000").attr("stroke-width",1.6);
  g.append("path").attr("d",`M${ax1},${ay1}L${bx+W*Math.sin(ang)},${by-W*Math.cos(ang)}L${bx-W*Math.sin(ang)},${by+W*Math.cos(ang)}Z`).attr("fill","#000");
  g.append("circle").attr("cx",x(c.gene[0])).attr("cy",y(c.gene[1])).attr("r",3.3).attr("fill","#1010e0");
  rich(g,[c.title],c.titleX,c.titleY,{anchor:"middle",size:19.5});
  g.append("line").attr("x1",c.rule[0]).attr("x2",c.rule[1]).attr("y1",c.rule[2]).attr("y2",c.rule[2]).attr("stroke","#333").attr("stroke-width",1.2);
  rich(g,["Unbound"],c.ub,c.subY,{size:19.2});
  rich(g,["m",{t:"6"},"A-bound"],c.mb,c.subY,{size:19.2});
  rich(g,["log",{t:"2",sub:1}," (fold change)"],c.xlab[0],c.xlab[1],{anchor:"middle",size:19.2,fill:"#333"});
  rich(g,["-log",{t:"10",sub:1}," (adjusted P-val)"],c.ylab[0],c.ylab[1],{anchor:"middle",size:19.5,rotate:-90,fill:"#333"});
  c.counts.forEach(t=>rich(g,[t[0]],t[1],t[2],{size:20,fill:t[3]}));
}

function bars(c){
  const g=svg.append("g");
  const xP=d3.scaleLinear().domain(c.pDomain).range([c.x0,c.x1]);
  const xG=d3.scaleLinear().domain(c.gDomain).range([c.x0,c.x1]);
  const y=d3.scaleBand().domain(c.terms).range([c.y0,c.y1]).paddingInner(.388).paddingOuter(.194);
  g.selectAll("rect.bar").data(c.terms).join("rect").attr("class","bar").attr("x",c.x0).attr("y",d=>y(d)).attr("height",y.bandwidth())
    .attr("width",(d,i)=>xP(c.pval[i])-c.x0).attr("fill","#0a6cbc").attr("stroke","#1a1a2a").attr("stroke-width",1.3);
  const left=g.append("g").attr("transform",`translate(${c.x0},0)`).call(d3.axisLeft(y).tickSize(-3).tickSizeOuter(0).tickPadding(c.labPad));
  left.select(".domain").attr("stroke","#222").attr("stroke-width",1.3);
  left.selectAll("text").attr("font-size",c.fs).attr("fill","#222").attr("font-family","Liberation Sans").attr("dy",c.labDy);
  const right=g.append("g").attr("transform",`translate(${c.x1},0)`).call(d3.axisRight(y).tickSize(-3).tickSizeOuter(0).tickFormat(""));
  right.select(".domain").attr("stroke","#222").attr("stroke-width",1.3);
  right.selectAll("text").remove();
  const blue="#0a72c4",orange="#e0501c";
  const top=g.append("g").attr("transform",`translate(0,${c.y0})`).call(d3.axisTop(xP).tickValues(c.pTicks).tickSize(-4).tickSizeOuter(0).tickPadding(7).tickFormat(String));
  const bot=g.append("g").attr("transform",`translate(0,${c.y1})`).call(d3.axisBottom(xG).tickValues(c.gTicks).tickSize(-4).tickSizeOuter(0).tickPadding(7).tickFormat(c.gFmt));
  bot.selectAll("text").filter(function(){return !this.textContent;}).remove();
  [[top,blue],[bot,orange]].forEach(([a,col])=>{a.select(".domain").attr("stroke",col).attr("stroke-width",1.5);a.selectAll("line").attr("stroke",col);a.selectAll("text").attr("font-size",16.5).attr("fill",col).attr("font-family","Liberation Sans");});
  const yc=t=>y(t)+y.bandwidth()/2;
  g.append("path").attr("d",d3.line().x((d,i)=>xG(c.genes[i])).y(d=>yc(d))(c.terms)).attr("fill","none").attr("stroke",orange).attr("stroke-width",1.2);
  g.selectAll("rect.mk").data(c.terms).join("rect").attr("class","mk").attr("x",(d,i)=>xG(c.genes[i])-2.8).attr("y",d=>yc(d)-2.8).attr("width",5.6).attr("height",5.6).attr("fill","none").attr("stroke",orange).attr("stroke-width",1.1);
  rich(g,["-log",{t:"10",sub:1},"(adjusted p-value)"],c.pTitle[0],c.pTitle[1],{anchor:"middle",size:19.7,fill:blue});
  rich(g,["Number of genes enriched"],c.gTitle[0],c.gTitle[1],{anchor:"middle",size:19.4,fill:orange});
}

function network(c){
  const g=svg.append("g");
  const x=d3.scaleLinear().domain([0,c.w]).range([0,c.w/3]);
  const y=d3.scaleLinear().domain([0,c.h]).range([c.top,c.top+c.h/3]);
  const r=d3.scaleLinear().domain([0,16]).range([0,5.8]);
  const node=id=>c.nodes[id[0]][+id.slice(1)];
  const parse=s=>s.split(";").flatMap(e=>{const [a,b]=e.split(":");return b.split(" ").map(t=>[a,t]);});
  const curve=(e,i)=>{const a=node(e[0]),b=node(e[1]);const mx=(a[0]+b[0])/2,my=(a[1]+b[1])/2;
    const s=(i%2?1:-1)*.13;const cx=mx-(b[1]-a[1])*s,cy=my+(b[0]-a[0])*s;
    return `M${x(a[0])},${y(a[1])}Q${x(cx)},${y(cy)} ${x(b[0])},${y(b[1])}`;};
  g.append("g").selectAll("path").data(parse(c.light)).join("path").attr("d",curve).attr("fill","none").attr("stroke","#bfaedb").attr("stroke-width",1);
  g.append("g").selectAll("path").data(parse(c.dark)).join("path").attr("d",curve).attr("fill","none").attr("stroke","#5f3a9e").attr("stroke-width",1.15).attr("opacity",.85);
  groupKeys.forEach((k,i)=>{
    g.append("g").selectAll("circle").data(c.nodes[k]||[]).join("circle").attr("cx",d=>x(d[0])).attr("cy",d=>y(d[1])).attr("r",d=>r(d[2]||16))
      .attr("fill",groupColors[i]).attr("stroke","#7fa5a5").attr("stroke-width",.9);
  });
}

function legend(c){
  const g=svg.append("g");
  const y=d3.scalePoint().domain(c.items).range([c.y0,c.y1]);
  g.append("path").attr("d",`M${c.wx0},${c.wTop}L${c.wx1},${c.wTop}L${c.wx1},${c.wBot}Z`).attr("fill","#c9c9c9");
  g.selectAll("circle").data(c.items).join("circle").attr("cx",c.dot).attr("cy",d=>y(d)).attr("r",6.1).attr("fill",(d,i)=>groupColors[i]);
  g.selectAll("text.l").data(c.items).join("text").attr("class","l").attr("x",c.text).attr("y",d=>y(d)-.8).attr("dy",".35em").attr("font-size",19.5).attr("fill","#222").text(d=>d);
  rich(g,["-log",{t:"10",sub:1},"(q value)"],c.tt[0],c.tt[1],{size:17.4});
  rich(g,[c.hi[0]],c.hi[1],c.hi[2],{size:17.5,anchor:"end"});
  rich(g,[c.lo[0]],c.lo[1],c.lo[2],{size:17.5,anchor:"middle"});
}

const heatColor=d3.scaleLinear().domain([-2,0,2]).range(["#8000ff","#ffffff","#cccc00"]);
function heat(c){
  const g=svg.append("g");
  const x=d3.scaleBand().domain([0,1,2,3]).range([c.x0,c.x1]);
  const y=d3.scaleBand().domain(c.genes).range([c.y0,c.y1]);
  const yl=d3.scalePoint().domain(c.genes).range(c.labY);
  c.values.forEach((row,r)=>row.forEach((v,k)=>g.append("rect").attr("x",x(k)).attr("y",y(c.genes[r])).attr("width",x.bandwidth()+.3).attr("height",y.bandwidth()+.3).attr("fill",heatColor(v))));
  g.selectAll("text.g").data(c.genes).join("text").attr("class","g").attr("x",c.lab).attr("y",d=>yl(d)).attr("dy",".35em").attr("font-size",18.8).attr("font-style","italic").attr("fill","#222").text(d=>d);
  rich(g,["Unbound"],c.h1,c.hy,{anchor:"middle",size:17});
  rich(g,["m",{t:"6"},"A"],c.h2,c.hy,{anchor:"middle",size:17});
  [c.r1,c.r2].forEach(r=>g.append("line").attr("x1",r[0]).attr("x2",r[1]).attr("y1",c.ry).attr("y2",c.ry).attr("stroke","#222").attr("stroke-width",1.2));
  const id="grad"+c.id;
  const gr=g.append("linearGradient").attr("id",id);
  [-2,-1,0,1,2].forEach((v,i)=>gr.append("stop").attr("offset",(i*25)+"%").attr("stop-color",heatColor(v)));
  g.append("rect").attr("x",c.bar[0]).attr("y",c.bar[1]).attr("width",c.bar[2]).attr("height",c.bar[3]).attr("fill",`url(#${id})`);
  g.append("line").attr("x1",c.bar[0]).attr("x2",c.bar[0]+c.bar[2]).attr("y1",c.bar[1]).attr("y2",c.bar[1]).attr("stroke","#555").attr("stroke-width",.8);
  rich(g,["1"],c.t1[0],c.t1[1],{anchor:"middle",size:16});
  rich(g,["2"],c.t2[0],c.t1[1],{anchor:"middle",size:16});
}

// ---------- DRAW ----------
letter("a",40,21);letter("b",479,25);letter("c",20,468);letter("d",1056,469);letter("e",17,1014);letter("f",487,1022);letter("g",1,1467);letter("h",1031,1466);

volcano({id:"a",x0:103.3,x1:398.7,y0:85,y1:348,xDomain:[-10,10],yZero:347.7,yK:.8447,xTicks:[-10,-5,0,5,10],zeroDy:"0.05em",
 denseGreen:[denseGreenA],denseRed:[denseRedA,tailRedA],denseGray:denseGrayA,green:greenA.concat(greenA2),red:redA.concat(redA2),gray:grayA,edgeG:edgeGreenYA,edgeR:edgeRedYA,thG:-1,thR:1,
 box:[215,273,65,25],label:["Tbx21",218.5,285,19.3],arrow:[240.7,297,256,338],gene:[.45,4.7],title:"ILC1 meRIP-seq",titleX:254,titleY:25,rule:[132,370,42.7],ub:131,mb:274,subY:65,xlab:[251,387],ylab:[48,218],
 counts:[["3056",113.5,99,"#10a810"],["(25%)",111,123,"#10a810"],["4043",349,97,"#f01010"],["(33%)",344,119,"#f01010"]]});
volcano({id:"e",x0:92.3,x1:387.3,y0:1073.3,y1:1335,xDomain:[-12.22,12.53],yZero:1334.3,yK:.84,xTicks:[-10,-5,0,5,10],zeroDy:"0.32em",
 denseGreen:[denseGreenE,tailGreenE],denseRed:[denseRedE,tailRedE],denseGray:denseGrayE,green:greenE.concat(greenE2),red:redE.concat(redE2),gray:grayE,edgeG:edgeGreenYE,edgeR:edgeRedYE,thG:-.9,thR:.95,
 box:[204,1257.7,48,22.3],label:["Rorc",207.7,1267.7,19],arrow:[226,1281,240.7,1320],gene:[.36,6.3],title:"ILC3 meRIP-seq",titleX:250,titleY:1012.7,rule:[126,360.7,1034.3],ub:128,mb:261.7,subY:1056,xlab:[246,1374],ylab:[33,1213],
 counts:[["3274",102.5,1089,"#10a810"],["(27%)",101,1111.7,"#10a810"],["4395",333,1086,"#f01010"],["(36%)",330,1106.7,"#f01010"]]});

bars({x0:917.8,x1:1147.2,y0:66,y1:327.3,terms:termsB,pval:pvalB,genes:genesB,pDomain:[0,6],gDomain:[0,50],pTicks:d3.range(0,7),gTicks:d3.range(0,60,10),gFmt:String,fs:19.5,labPad:9,labDy:".47em",pTitle:[1032,20],gTitle:[1033,370]});
bars({x0:889.8,x1:1119.2,y0:1044,y1:1306,terms:termsF,pval:pvalF,genes:genesF,pDomain:[0,10],gDomain:[0,89.8],pTicks:d3.range(0,12,2),gTicks:d3.range(0,90,10),gFmt:d=>d%20?"":String(d),fs:19.5,labPad:7,labDy:".4em",pTitle:[1007,1006],gTitle:[1003,1347]});

network({nodes:nodesC,dark:darkC,light:lightC,w:1500,h:1170,top:510});
network({nodes:nodesG,dark:darkG,light:lightG,w:1500,h:1290,top:1490});

legend({items:legendC,y0:480,y1:901.7,dot:553,text:569,wx0:513,wx1:535.5,wTop:476.7,wBot:910,tt:[433,460],hi:["23",505,486],lo:["9",519,902]});
legend({items:legendG,y0:1487.3,y1:1909.3,dot:556,text:578.8,wx0:514.3,wx1:536.7,wTop:1482,wBot:1913,tt:[430,1462],hi:["22",505.7,1491],lo:["7",514.7,1905]});

heat({id:"d",genes:genesD,values:heatD,x0:1105.7,x1:1252.3,y0:490,y1:805.3,lab:1261,labY:[505.7,793.3],h1:1140,h2:1214,hy:466,ry:481.7,r1:[1109.3,1172],r2:[1185.7,1246.7],bar:[1115.3,841.7,38.4,15],t1:[1126.7,832.7],t2:[1151]});
heat({id:"h",genes:genesH,values:heatH,x0:1076.7,x1:1222,y0:1490,y1:1808.3,lab:1232,labY:[1506,1793.3],h1:1110.7,h2:1184.7,hy:1465,ry:1480.7,r1:[1080,1142.3],r2:[1156,1216.7],bar:[1082,1846,40,16],t1:[1099,1836],t2:[1120.7]});
</script></body></html>
